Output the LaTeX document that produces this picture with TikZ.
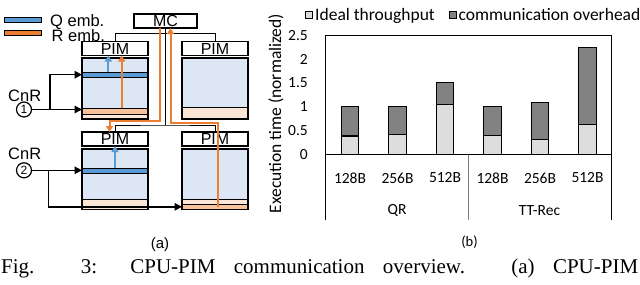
\documentclass[tikz,border=0pt]{standalone}
\usepackage{fontspec}
\setmainfont{Liberation Sans}
\newfontfamily\calfont{Carlito}
\newfontfamily\timesfont{Liberation Serif}
\usetikzlibrary{arrows.meta}
\definecolor{memblue}{HTML}{DCE6F4}
\definecolor{qblue}{HTML}{5B9BD5}
\definecolor{rorange}{HTML}{ED7D31}
\definecolor{peachlight}{HTML}{FBE5D6}
\definecolor{peachrow}{HTML}{F6C19B}
\definecolor{idealgrey}{HTML}{DDDDDD}
\definecolor{overgrey}{HTML}{828282}
\begin{document}
\begin{tikzpicture}[x=1pt,y=-1pt,
  lbl/.style={font=\fontsize{16.5}{18}\selectfont, inner sep=0pt},
  boxbase/.style={draw, line width=1.2pt, rectangle, inner sep=0pt, outer sep=0pt, minimum width=66pt},
  pimbox/.style={boxbase, fill=white, minimum height=14pt, font=\fontsize{16}{18}\selectfont},
  membox/.style={boxbase, fill=memblue},
  rowbox/.style={draw, line width=0.9pt, rectangle, inner sep=0pt, outer sep=0pt, minimum width=66pt},
  blk/.style={line width=1.5pt, -{Triangle[length=7.5pt,width=7.5pt]}},
  bus/.style={line width=1pt},
  oline/.style={rorange, line width=2pt},
  oarrow/.style={oline, -{Triangle[length=6pt,width=7pt]}},
  barrow/.style={qblue, line width=2pt, -{Triangle[length=6pt,width=7pt]}},
  cal/.style={font=\calfont\fontsize{15.5}{17}\selectfont, inner sep=0pt},
  calbig/.style={font=\calfont\fontsize{17.5}{19}\selectfont, inner sep=0pt},
]
\useasboundingbox (0,0) rectangle (640,284);

% ---------- legend (a)
\node[draw, line width=1pt, fill=qblue, minimum width=37pt, minimum height=5pt, inner sep=0pt] (qleg) at (22.5,19.5) {};
\node[draw, line width=1pt, fill=rorange, minimum width=37pt, minimum height=5pt, inner sep=0pt] (rleg) at (22.5,32.5) {};
\node[lbl, anchor=base west, text depth=0pt] (qlegt) at (50,26) {Q emb.};
\node[lbl, anchor=base west, text height=11.5pt] (rlegt) at (51.5,41) {R emb.};

% ---------- buses
\coordinate (bt) at (165,33.5);
\coordinate (bb) at (165,125);

\node[pimbox, minimum width=63pt] (mc) at (165.5,21) {MC};
\node[pimbox] (pim1) at (115,48.5) {PIM};
\node[pimbox] (pim2) at (215,48.5) {PIM};
\node[pimbox] (pim3) at (115,139) {PIM};
\node[pimbox] (pim4) at (215,139) {PIM};

\draw[bus] (pim1.north) |- (bt) -| (pim2.north);
\draw[bus] (pim3.north) |- (bb) -| (pim4.north);
\draw[bus] (mc.south -| bb) -- (bb);

% ---------- memories
\node[membox, minimum height=61pt] (mem1) at (115,88.5) {};
\node[membox, minimum height=61pt] (mem2) at (215,88.5) {};
\node[membox, minimum height=60.5pt] (mem3) at (115,179.25) {};
\node[membox, minimum height=60.5pt] (mem4) at (215,179.25) {};

\node[rowbox, fill=qblue, minimum height=5.3pt] (qrow1) at (115,74.7) {};
\node[rowbox, fill=peachrow, minimum height=5.7pt] (rrow1) at (115,111.2) {};
\node[rowbox, fill=peachlight, minimum height=5.3pt] (pch1) at (115,116.6) {};
\node[rowbox, fill=peachlight, minimum height=12pt] (pch2) at (215,113.2) {};
\node[rowbox, fill=qblue, minimum height=5pt] (qrow2) at (115,170.8) {};
\node[rowbox, fill=peachlight, minimum height=10.5pt] (pch3) at (115,204.2) {};
\node[rowbox, fill=peachlight, minimum height=5pt] (pch4) at (215,201.5) {};
\node[rowbox, fill=peachrow, minimum height=5.4pt] (rrow4) at (215,206.8) {};

\draw[line width=1.2pt] (mem1.north west) rectangle (mem1.south east);
\draw[line width=1.2pt] (mem2.north west) rectangle (mem2.south east);
\draw[line width=1.2pt] (mem3.north west) rectangle (mem3.south east);
\draw[line width=1.2pt] (mem4.north west) rectangle (mem4.south east);

% ---------- CnR
\node[lbl, anchor=base west] (cnr1) at (8,101) {CnR};
\node[draw, circle, line width=1.2pt, minimum size=15pt, inner sep=0pt, font=\fontsize{12}{13}\selectfont] (c1) at (24,109.5) {1};
\node[lbl, anchor=base west] (cnr2) at (8,159) {CnR};
\node[draw, circle, line width=1.2pt, minimum size=15pt, inner sep=0pt, font=\fontsize{12}{13}\selectfont] (c2) at (24,170.3) {2};

\coordinate (b1) at (50,109.5);
\coordinate (b2) at (48.3,170.3);
\draw[blk] (c1.east) -- (c1.east -| mem1.west);
\draw[blk] (b1) |- (qrow1.west);
\draw[blk] (c2.east) -- (c2.east -| mem3.west);
\draw[blk] (b2) |- (rrow4.west);

% ---------- in-memory arrows
\draw[barrow] ([xshift=-6.7pt]qrow1.north) -- ([xshift=-6.7pt]qrow1.north |- pim1.south);
\draw[oarrow] ([xshift=6.7pt]rrow1.north) -- ([xshift=6.7pt]rrow1.north |- pim1.south);
\draw[barrow] (qrow2.north) -- (qrow2.north |- pim3.south);

% ---------- orange R paths through MC
\coordinate (od1) at (159.5,121);
\coordinate (od2) at (109.5,121);
\draw[oarrow] (mc.south -| od1) -- (od1) -- (od2) -- (od2 |- pim3.north);
\coordinate (ou1) at (218,122.5);
\coordinate (ou2) at (170.5,122.5);
\draw[oarrow] (rrow4.center -| ou1) -- (ou1) -- (ou2) -- (ou2 |- mc.south);

\node[font=\fontsize{15}{16}\selectfont, inner sep=0pt] (capa) at (160,245) {(a)};

% ---------- chart (b)
\node[draw, line width=0.9pt, fill=idealgrey, minimum size=7pt, inner sep=0pt] (lg1) at (309,15) {};
\node[calbig, anchor=base west] (lg1t) at (315,20) {Ideal throughput};
\node[draw, line width=0.9pt, fill=overgrey, minimum size=7pt, inner sep=0pt] (lg2) at (452.5,15) {};
\node[calbig, anchor=base west] (lg2t) at (458.5,20) {communication overhead};

\begin{scope}[shift={(0,154.3)}, x=1pt, y=47.6pt]
  % frame
  \draw[line width=1pt] (325.7,-1.38) -- (325.7,2.5) -- (611,2.5) -- (611,-1.38);
  \draw[gray, line width=0.8pt] (468.3,0) -- (468.3,-1.38);
  % bars
  \foreach \cx/\vi/\vt in {350/0.385/1.0, 397.5/0.41/1.0, 445/1.05/1.5, 492.5/0.39/1.0, 540/0.32/1.09, 587.5/0.62/2.24}{
    \draw[line width=1.1pt, fill=overgrey] (\cx-8.75,\vi) rectangle (\cx+8.75,\vt);
    \draw[line width=1.1pt, fill=idealgrey] (\cx-8.75,0) rectangle (\cx+8.75,\vi);
  }
  \draw[line width=1.6pt] (325.7,0) -- (611,0);
  % ticks
  \foreach \v/\t in {0/0, 0.5/0.5, 1/1, 1.5/1.5, 2/2, 2.5/2.5}{
    \node[cal, anchor=east] at (308,\v) {\t};
  }
  \node[calbig, rotate=90] (ylab) at (276,0.857) {Execution time (normalized)};
  \foreach \cx/\t in {350/128B, 397.5/256B, 445/512B, 492.5/128B, 540/256B, 587.5/512B}{
    \node[cal] at (\cx,-0.498) {\t};
  }
  \node[cal] (gqr) at (397,-1.191) {QR};
  \node[cal] (gtt) at (539.5,-1.191) {TT-Rec};
  \node[cal, font=\calfont\fontsize{14.5}{15}\selectfont] (capb) at (469.5,-1.843) {(b)};
\end{scope}

% ---------- caption
\node[anchor=base west, inner sep=0pt] (caption) at (1,273) {\timesfont\fontsize{21}{24}\selectfont\makebox[637pt][s]{Fig. 3: CPU-PIM communication overview. (a) CPU-PIM}};
\end{tikzpicture}
\end{document}
